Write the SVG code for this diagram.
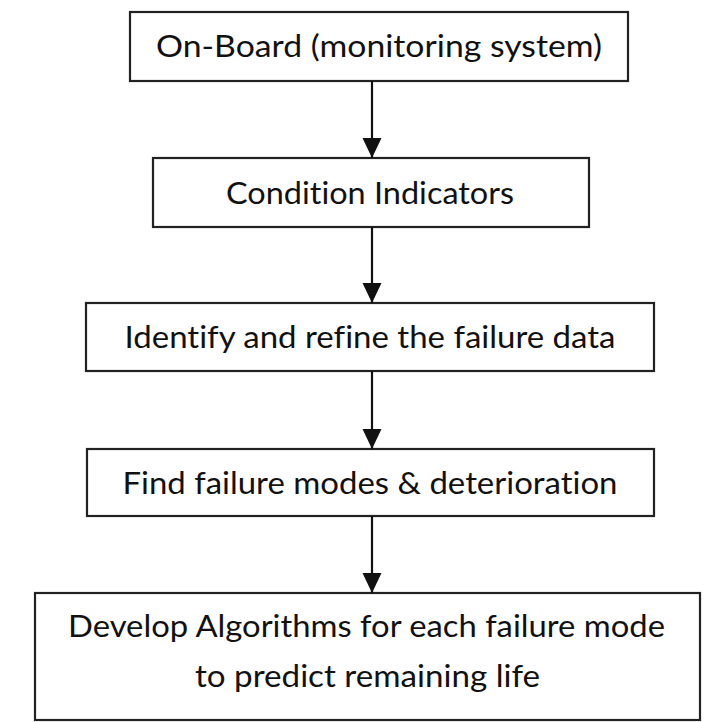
<svg xmlns="http://www.w3.org/2000/svg" width="713" height="722" viewBox="0 0 713 722">
<style>
.box{fill:#fff;stroke:#222;stroke-width:2.2}
.lbl{font-family:Lato,"Open Sans","Liberation Sans",sans-serif;font-size:30px;fill:#111;text-anchor:middle;font-variant-ligatures:none;font-feature-settings:"liga" 0,"clig" 0,"dlig" 0}
.edge{stroke:#111;stroke-width:2.2;fill:none}
</style>
<defs>
<marker id="arr" viewBox="0 0 20 20" refX="20" refY="10" markerWidth="20" markerHeight="20" markerUnits="userSpaceOnUse" orient="auto">
<path d="M0,0.5 L20,10 L0,19.5 z" fill="#111"/>
</marker>
</defs>
<rect width="713" height="722" fill="#fff"/>
<g id="n1"><rect class="box" x="130" y="12" width="498" height="69"/><text class="lbl" x="379" y="57" textLength="446" lengthAdjust="spacingAndGlyphs">On-Board (monitoring system)</text></g>
<g id="n2"><rect class="box" x="153" y="158" width="436" height="69"/><text class="lbl" x="370" y="204" textLength="288" lengthAdjust="spacingAndGlyphs">Condition Indicators</text></g>
<g id="n3"><rect class="box" x="86" y="303" width="568" height="68"/><text class="lbl" x="370" y="348" textLength="491" lengthAdjust="spacingAndGlyphs">Identify and refine the failure data</text></g>
<g id="n4"><rect class="box" x="87" y="449" width="567" height="67"/><text class="lbl" x="370" y="494" textLength="495" lengthAdjust="spacingAndGlyphs">Find failure modes &amp; deterioration</text></g>
<g id="n5"><rect class="box" x="35" y="593" width="665" height="127"/><text class="lbl" x="366.5" y="637" textLength="597" lengthAdjust="spacingAndGlyphs">Develop Algorithms for each failure mode</text><text class="lbl" x="367.5" y="687" textLength="345" lengthAdjust="spacingAndGlyphs">to predict remaining life</text></g>
<g id="edges">
<line class="edge" x1="372" y1="81" x2="372" y2="158" marker-end="url(#arr)"/>
<line class="edge" x1="372" y1="227" x2="372" y2="303" marker-end="url(#arr)"/>
<line class="edge" x1="372" y1="371" x2="372" y2="449" marker-end="url(#arr)"/>
<line class="edge" x1="372" y1="516" x2="372" y2="593" marker-end="url(#arr)"/>
</g>
</svg>
